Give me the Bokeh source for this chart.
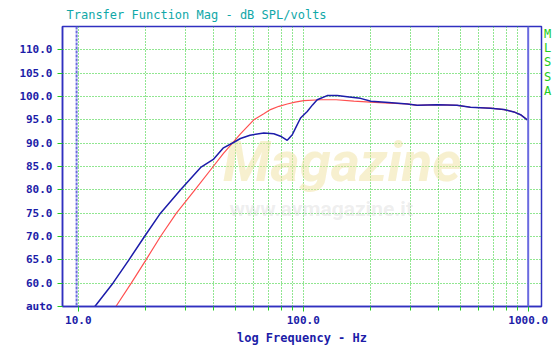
from bokeh.plotting import figure
from bokeh.models import Range1d, FixedTicker, Label, Span, PrintfTickFormatter
from bokeh.embed import file_html
from bokeh.resources import INLINE

# ---- data ----
blue_freq = [11.85, 14.26, 16.8, 19.7, 23.2, 28.5, 35.0, 40.0, 44.2, 49.2, 52.6, 58.0,
             66.8, 74.0, 79.3, 84.9, 89.4, 93.0, 97.3, 104.2, 110.0, 115.4, 127.8,
             141.6, 160.0, 179.7, 200.0, 240.0, 290.0, 321.0, 394.0, 483.0, 554.0,
             680.0, 780.0, 864.0, 925.0, 990.0]
blue_db = [55.0, 60.0, 65.0, 70.0, 75.0, 80.0, 84.8, 86.6, 89.0, 90.2, 91.0, 91.7,
           92.2, 92.0, 91.5, 90.6, 91.8, 93.5, 95.4, 96.8, 98.2, 99.3, 100.2,
           100.2, 99.9, 99.6, 99.0, 98.7, 98.4, 98.1, 98.25, 98.1, 97.7,
           97.5, 97.2, 96.7, 96.1, 95.0]

red_freq = [14.7, 17.2, 20.0, 23.2, 27.3, 33.0, 39.8, 44.2, 47.6, 52.6, 60.3, 66.8,
            71.5, 78.0, 84.9, 92.0, 100.6, 119.4, 140.0, 167.9, 199.0, 240.0, 290.0,
            321.0, 394.0, 483.0, 554.0, 680.0, 780.0, 864.0, 925.0, 990.0]
red_db = [55.0, 60.0, 65.0, 70.0, 75.0, 80.0, 85.0, 87.8, 89.6, 92.0, 95.0, 96.3,
          97.2, 97.9, 98.4, 98.8, 99.1, 99.3, 99.3, 99.0, 98.8, 98.6, 98.4,
          98.1, 98.25, 98.1, 97.7, 97.5, 97.2, 96.7, 96.1, 95.0]

x_major = [10, 100, 1000]
x_minor = [20, 30, 40, 50, 60, 70, 80, 90, 200, 300, 400, 500, 600, 700, 800, 900]
y_ticks = [55, 60, 65, 70, 75, 80, 85, 90, 95, 100, 105, 110]
y_overrides = {55: "auto"}

x_lo, x_hi = 8.51, 1146
y_lo, y_hi = 55, 115
low_marker = 9.83
high_marker = 1000

title_text = "Transfer Function Mag - dB SPL/volts"
x_label = "log Frequency - Hz"
side_text = "M\nL\nS\nS\nA"

FRAME = "#3030c0"
TICKLAB = "#1c1ca8"
GREEN = "#22cc22"
MONO = "DejaVu Sans Mono"

p = figure(width=560, height=351, x_axis_type="log",
           x_range=Range1d(x_lo, x_hi), y_range=Range1d(y_lo, y_hi),
           output_backend="svg", toolbar_location=None,
           min_border_left=62, min_border_right=19,
           min_border_top=24, min_border_bottom=45,
           title=title_text)

p.background_fill_color = "white"
p.border_fill_color = "white"
p.outline_line_color = FRAME
p.outline_line_width = 1.5

p.title.text_font = MONO
p.title.text_font_size = "12px"
p.title.text_font_style = "normal"
p.title.text_color = "#10a8a8"
p.title.offset = 4

# x axis
xa = p.xaxis[0]
xa.ticker = FixedTicker(ticks=x_major, minor_ticks=x_minor)
xa.formatter = PrintfTickFormatter(format="%.1f")
xa.axis_line_color = FRAME
xa.axis_line_width = 1.5
xa.major_tick_line_color = GREEN
xa.minor_tick_line_color = GREEN
xa.major_tick_out = 5
xa.major_tick_in = 0
xa.minor_tick_out = 4
xa.minor_tick_in = 0
xa.major_label_text_font = MONO
xa.major_label_text_font_style = "bold"
xa.major_label_text_font_size = "11px"
xa.major_label_text_color = TICKLAB
xa.major_label_standoff = 4
xa.axis_label = x_label
xa.axis_label_text_font = MONO
xa.axis_label_text_font_style = "bold"
xa.axis_label_text_font_size = "12px"
xa.axis_label_text_color = TICKLAB
xa.axis_label_standoff = 4

# y axis
ya = p.yaxis[0]
ya.ticker = FixedTicker(ticks=y_ticks)
ya.formatter = PrintfTickFormatter(format="%.1f")
ya.major_label_overrides = y_overrides
ya.axis_line_color = FRAME
ya.axis_line_width = 1.5
ya.major_tick_line_color = GREEN
ya.major_tick_out = 5
ya.major_tick_in = 0
ya.minor_tick_line_color = None
ya.major_label_text_font = MONO
ya.major_label_text_font_style = "bold"
ya.major_label_text_font_size = "11px"
ya.major_label_text_color = TICKLAB
ya.major_label_standoff = 5

# grids
for g in (p.xgrid[0], p.ygrid[0]):
    g.grid_line_color = GREEN
    g.grid_line_dash = "1 2"
    g.grid_line_width = 1
p.xgrid[0].minor_grid_line_color = GREEN
p.xgrid[0].minor_grid_line_dash = "1 2"

# watermark
p.add_layout(Label(x=44, y=79.0, text="Magazine", text_font="Roboto",
                   text_font_size="56px", text_font_style="bold italic",
                   text_color="#efe2a0", text_alpha=0.5, level="underlay"))
p.add_layout(Label(x=47, y=73.3, text="www.avmagazine.it", text_font="Roboto",
                   text_font_size="21px", text_font_style="bold",
                   text_color="#c8c8c8", text_alpha=0.3, level="underlay"))

# marker lines
p.add_layout(Span(location=low_marker, dimension="height", line_color="#6a6ae0",
                  line_dash="3 1", line_width=2))
p.add_layout(Span(location=high_marker, dimension="height", line_color="#6a6ae0",
                  line_width=2))

# curves
p.line(red_freq, red_db, line_color="#ff5050", line_width=1.2)
p.line(blue_freq, blue_db, line_color="#1c1caa", line_width=1.5)

# side text in the right panel
p.add_layout(Label(x=6, y=280, x_units="screen", y_units="screen", text=side_text,
                   text_font=MONO, text_font_size="12px", text_color=GREEN,
                   text_baseline="top", text_align="center", text_line_height=1.03),
             "right")

open("out.html", "w").write(file_html(p, INLINE))
